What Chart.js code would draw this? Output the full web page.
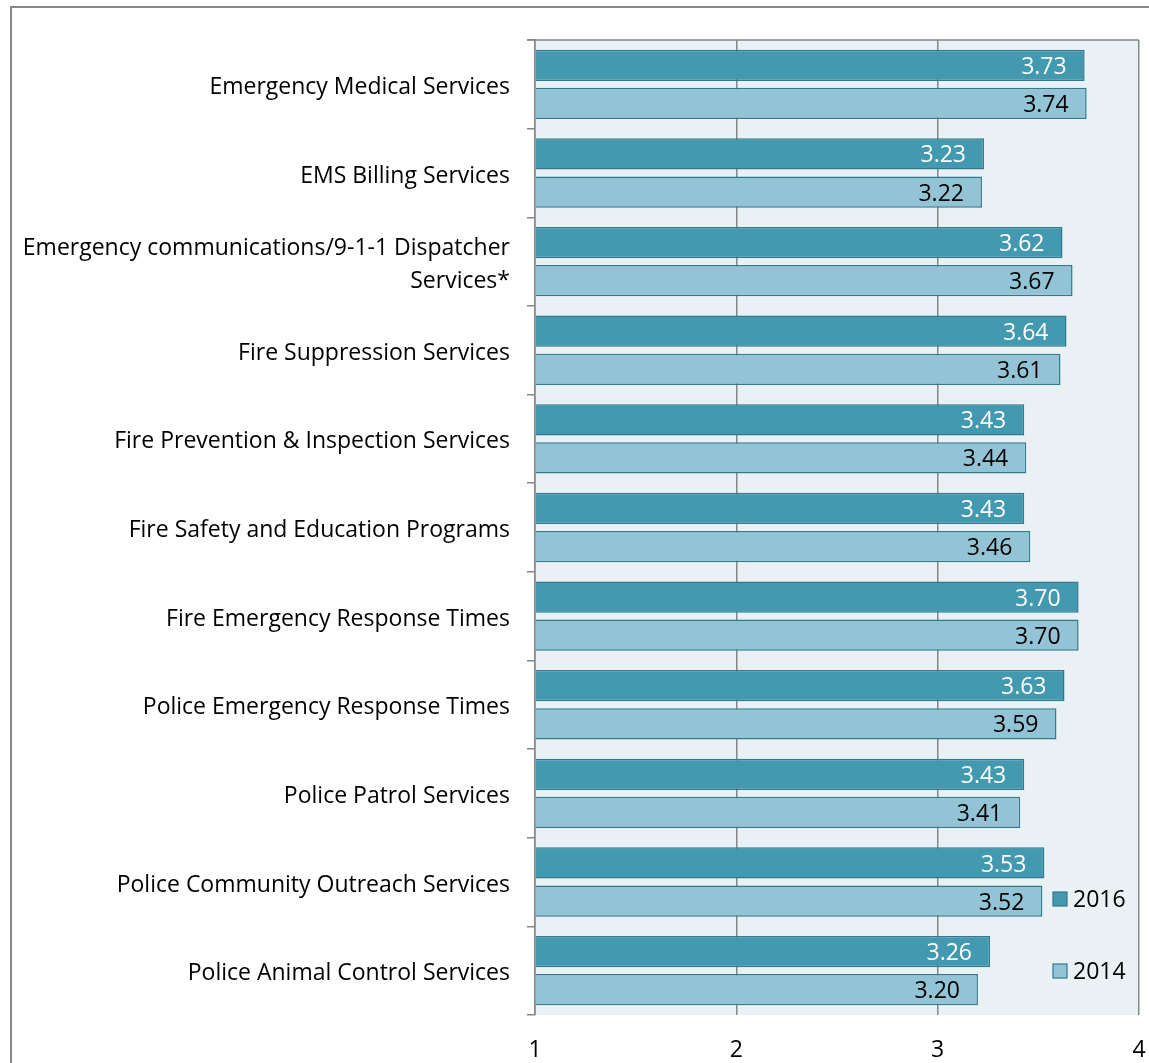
<!DOCTYPE html>
<html>
<head>
<meta charset="utf-8">
<script src="https://cdn.jsdelivr.net/npm/chart.js@4.4.1/dist/chart.umd.min.js"></script>
<style>
  html, body { margin: 0; padding: 0; background: #fff; overflow: hidden; }
  #frame { position: absolute; left: 10px; top: 6px; width: 1300px; height: 1200px;
           border-left: 2px solid #878787; border-top: 2px solid #878787; }
  #chart { position: absolute; left: 0; top: 0; }
</style>
</head>
<body>
<div id="frame"></div>
<canvas id="chart" width="1149" height="1063"></canvas>
<script>
// Categories and values
const categories = [
    "Emergency Medical Services",
    "EMS Billing Services",
    ["Emergency communications/9-1-1 Dispatcher", "Services*"],
    "Fire Suppression Services",
    "Fire Prevention & Inspection Services",
    "Fire Safety and Education Programs",
    "Fire Emergency Response Times",
    "Police Emergency Response Times",
    "Police Patrol Services",
    "Police Community Outreach Services",
    "Police Animal Control Services"
];
const values2016 = [3.73, 3.23, 3.62, 3.64, 3.43, 3.43, 3.70, 3.63, 3.43, 3.53, 3.26];
const values2014 = [3.74, 3.22, 3.67, 3.61, 3.44, 3.46, 3.70, 3.59, 3.41, 3.52, 3.20];
const xTicks = [1, 2, 3, 4];

const FONT = "'Open Sans', sans-serif";
const FSIZE = 23;
const GRID = "#868686";

// Plot background + top border line
const plotBg = {
    id: "plotBg",
    beforeDraw(chart) {
        const { ctx, chartArea: a } = chart;
        ctx.save();
        ctx.fillStyle = "#e9f1f4";
        ctx.fillRect(a.left, a.top, a.right - a.left, a.bottom - a.top);
        ctx.restore();
    },
    afterDraw(chart) {
        const { ctx, chartArea: a } = chart;
        ctx.save();
        ctx.strokeStyle = GRID;
        ctx.lineWidth = 1.5;
        ctx.beginPath();
        ctx.moveTo(a.left - 8, a.top);
        ctx.lineTo(a.right, a.top);
        ctx.stroke();
        ctx.restore();
    }
};

// Value labels at inside end of each bar
const valueLabels = {
    id: "valueLabels",
    afterDatasetsDraw(chart) {
        const { ctx } = chart;
        ctx.save();
        ctx.font = FSIZE + "px " + FONT;
        ctx.textAlign = "right";
        ctx.textBaseline = "middle";
        chart.data.datasets.forEach((ds, i) => {
            const meta = chart.getDatasetMeta(i);
            ctx.fillStyle = i === 0 ? "#ffffff" : "#000000";
            meta.data.forEach((bar, j) => {
                ctx.fillText(ds.data[j].toFixed(2), bar.x - 18, bar.y + 2);
            });
        });
        ctx.restore();
    }
};

// Legend inside plot area, bottom right
const sideLegend = {
    id: "sideLegend",
    afterDraw(chart) {
        const { ctx } = chart;
        const items = [
            { text: "2016", fill: "#4299b0", y: 899 },
            { text: "2014", fill: "#93c4d6", y: 971 }
        ];
        ctx.save();
        ctx.font = FSIZE + "px " + FONT;
        ctx.textBaseline = "middle";
        ctx.textAlign = "left";
        items.forEach(it => {
            ctx.fillStyle = it.fill;
            ctx.fillRect(1053, it.y - 7, 14, 14);
            ctx.strokeStyle = "#31798d";
            ctx.lineWidth = 1.2;
            ctx.strokeRect(1053, it.y - 7, 14, 14);
            ctx.fillStyle = "#000";
            ctx.fillText(it.text, 1073, it.y + 1);
        });
        ctx.restore();
    }
};

new Chart(document.getElementById("chart"), {
    type: "bar",
    data: {
        labels: categories,
        datasets: [
            {
                label: "2016",
                data: values2016,
                base: 1,
                backgroundColor: "#4299b0",
                borderColor: "#31798d",
                borderWidth: 1.5,
                categoryPercentage: 0.86,
                barPercentage: 0.82
            },
            {
                label: "2014",
                data: values2014,
                base: 1,
                backgroundColor: "#93c4d6",
                borderColor: "#31798d",
                borderWidth: 1.5,
                categoryPercentage: 0.86,
                barPercentage: 0.82
            }
        ]
    },
    options: {
        indexAxis: "y",
        responsive: false,
        animation: false,
        layout: { padding: { top: 40, right: 10, left: 0, bottom: 0 } },
        plugins: {
            legend: { display: false },
            tooltip: { enabled: false }
        },
        scales: {
            x: {
                min: 1,
                max: 4,
                afterBuildTicks: axis => { axis.ticks = xTicks.map(v => ({ value: v })); },
                afterFit: axis => { axis.height = 48; axis.paddingLeft = 0; axis.paddingRight = 0; },
                border: { display: false },
                grid: { color: GRID, lineWidth: 1.5, drawTicks: false },
                ticks: { padding: 22, color: "#000", font: { family: FONT, size: FSIZE, lineHeight: 1.2 } }
            },
            y: {
                afterFit: axis => { axis.width = 535; axis.paddingTop = 0; axis.paddingBottom = 0; },
                border: { display: true, color: GRID, width: 1.5 },
                grid: { offset: true, drawOnChartArea: false, drawTicks: true, tickLength: 8, color: GRID, lineWidth: 1.5 },
                ticks: { padding: 17, labelOffset: 3, color: "#000", font: { family: FONT, size: FSIZE, lineHeight: 1.43 } }
            }
        }
    },
    plugins: [plotBg, valueLabels, sideLegend]
});
</script>
</body>
</html>
